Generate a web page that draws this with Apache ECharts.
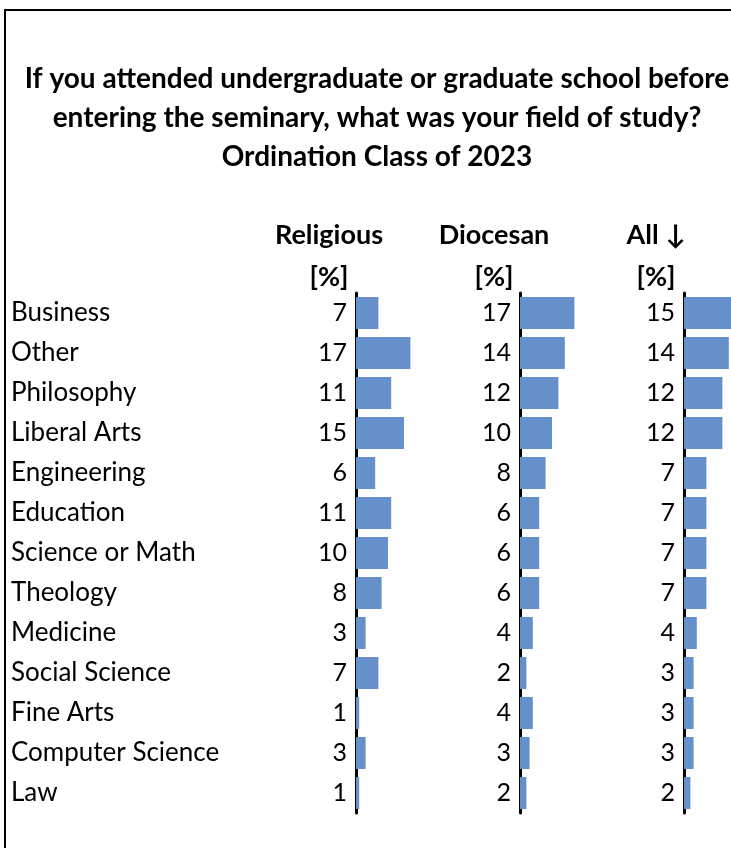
<!DOCTYPE html>
<html>
<head>
<meta charset="utf-8">
<script src="https://cdn.jsdelivr.net/npm/echarts@6/dist/echarts.min.js"></script>
<style>
  html, body { margin: 0; padding: 0; background: #fff; }
  #chart { width: 731px; height: 848px; }
</style>
</head>
<body>
<div id="chart"></div>
<script>
// field of study, sorted by "All"
const categories = ['Business', 'Other', 'Philosophy', 'Liberal Arts', 'Engineering', 'Education',
  'Science or Math', 'Theology', 'Medicine', 'Social Science', 'Fine Arts', 'Computer Science', 'Law'];
const religious = [7, 17, 11, 15, 6, 11, 10, 8, 3, 7, 1, 3, 1];
const diocesan = [17, 14, 12, 10, 8, 6, 6, 6, 4, 2, 4, 3, 2];
const all = [15, 14, 12, 12, 7, 7, 7, 7, 4, 3, 3, 3, 2];
const headers = ['Religious', 'Diocesan', 'All \u2193'];

const FONT = 'Lato';
const barColor = '#6690c9';
const lefts = [356, 520, 684];
const headerX = [329, 494, 656];
const seriesData = [religious, diocesan, all];

const chart = echarts.init(document.getElementById('chart'));

const grids = lefts.map(l => ({ left: l, top: 293, width: 64, height: 520, outerBoundsMode: 'none' }));

const xAxes = lefts.map((l, i) => ({
    gridIndex: i,
    type: 'value',
    min: 0,
    max: 20,
    show: false
}));

const yAxes = lefts.map((l, i) => ({
    gridIndex: i,
    type: 'category',
    data: categories,
    inverse: true,
    offset: 3,
    axisLine: { show: true, lineStyle: { color: '#000', width: 3 } },
    axisTick: { show: false },
    axisLabel: {
        show: i === 0,
        align: 'left',
        margin: 342,
        fontFamily: FONT,
        fontSize: 26,
        color: '#000'
    }
}));

const series = seriesData.map((d, i) => ({
    type: 'bar',
    xAxisIndex: i,
    yAxisIndex: i,
    data: d,
    barWidth: 32,
    itemStyle: { color: barColor },
    label: {
        show: true,
        position: 'left',
        distance: 9,
        fontFamily: FONT,
        fontSize: 25,
        color: '#000'
    },
    silent: true
}));

const graphic = [
    {
        type: 'rect',
        shape: { x: 5, y: 10, width: 900, height: 900 },
        style: { fill: 'none', stroke: '#000', lineWidth: 2 }
    }
];
headers.forEach((h, i) => {
    graphic.push({
        type: 'text',
        x: headerX[i], y: 235,
        style: { text: h, font: 'bold 27px ' + FONT, fill: '#000', align: 'center', verticalAlign: 'middle' }
    });
    graphic.push({
        type: 'text',
        x: headerX[i], y: 277,
        style: { text: '[%]', font: 'bold 27px ' + FONT, fill: '#000', align: 'center', verticalAlign: 'middle' }
    });
});

chart.setOption({
    animation: false,
    title: {
        text: 'If you attended undergraduate or graduate school before\nentering the seminary, what was your field of study?\nOrdination Class of 2023',
        left: 372,
        top: 54,
        textAlign: 'center',
        textStyle: { fontFamily: FONT, fontWeight: 'bold', fontSize: 28, lineHeight: 39, color: '#000' }
    },
    grid: grids,
    xAxis: xAxes,
    yAxis: yAxes,
    series: series,
    graphic: graphic
});
</script>
</body>
</html>
